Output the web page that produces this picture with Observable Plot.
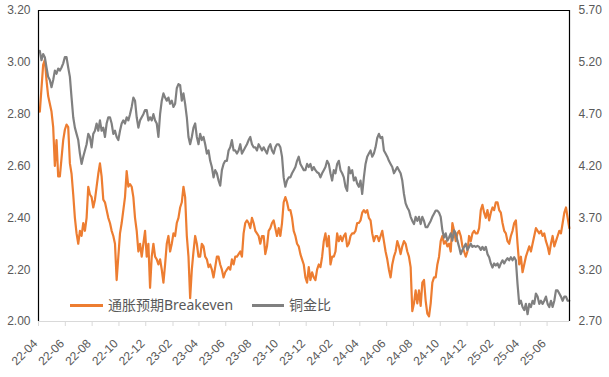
<!DOCTYPE html>
<html><head><meta charset="utf-8">
<script src="https://cdn.jsdelivr.net/npm/d3@7"></script>
<script src="https://cdn.jsdelivr.net/npm/@observablehq/plot@0.6"></script>
<style>
body{margin:0;background:#fff;}
#wrap{position:relative;width:609px;height:377px;font-family:"Liberation Sans","Noto Sans CJK SC",sans-serif;}
.sw{position:absolute;height:3px;}
.lt{position:absolute;font-size:14px;color:#595959;line-height:16px;white-space:nowrap;font-family:"Noto Sans","Noto Sans CJK SC",sans-serif;}
</style></head>
<body><div id="wrap"></div>
<script>
// ---- data (~3.8-day sampling) ----
const START_DATE = "2022-04-04";
const STEP_DAYS = 3.8;
const seriesNames = ["通胀预期Breakeven", "铜金比"];
const breakeven = [
 2.81,2.90,2.99,3.01,2.93,2.87,2.84,2.81,2.75,2.60,
 2.70,2.56,2.56,2.63,2.70,2.74,2.76,2.75,2.61,2.57,
 2.49,2.40,2.34,2.30,2.35,2.33,2.38,2.35,2.40,2.52,
 2.49,2.48,2.44,2.47,2.52,2.57,2.61,2.56,2.47,2.46,
 2.43,2.40,2.38,2.35,2.33,2.30,2.16,2.25,2.34,2.38,
 2.43,2.48,2.58,2.52,2.53,2.52,2.48,2.40,2.35,2.27,
 2.30,2.25,2.30,2.35,2.25,2.30,2.13,2.25,2.30,2.25,
 2.24,2.22,2.24,2.20,2.15,2.22,2.30,2.33,2.27,
 2.30,2.34,2.33,2.38,2.40,2.44,2.46,2.52,2.48,2.33,
 2.25,2.09,2.20,2.27,2.33,2.30,2.25,2.25,2.30,2.29,
 2.25,2.24,2.21,2.22,2.20,2.17,2.21,2.25,2.25,2.22,
 2.20,2.17,2.19,2.20,2.21,2.20,2.24,2.22,2.25,2.25,
 2.26,2.27,2.25,2.34,2.38,2.39,2.38,2.36,2.40,2.38,
 2.35,2.34,2.33,2.30,2.33,2.33,2.26,2.29,2.35,2.36,
 2.38,2.39,2.36,2.33,2.36,2.33,2.38,2.46,2.48,2.46,
 2.43,2.43,2.40,2.35,2.33,2.30,2.29,2.26,2.24,2.22,
 2.17,2.15,2.21,2.16,2.19,2.17,2.16,2.20,2.22,2.21,
 2.25,2.31,2.34,2.29,2.33,2.22,2.25,2.25,2.27,2.34,
 2.31,2.33,2.31,2.33,2.34,2.29,2.30,2.33,2.34,2.34,
 2.35,2.38,2.38,2.39,2.42,2.43,2.42,2.43,2.40,2.39,
 2.34,2.31,2.33,2.33,2.31,2.33,2.35,2.31,2.27,2.24,
 2.20,2.17,2.22,2.25,2.27,2.31,2.29,2.26,2.29,2.31,
 2.30,2.27,2.25,2.21,2.04,2.07,2.12,2.07,2.12,2.06,
 2.15,2.16,2.08,2.03,2.02,2.07,2.15,2.17,2.17,2.22,
 2.25,2.31,2.33,2.30,2.31,2.29,2.30,2.27,2.38,2.35,
 2.31,2.34,2.35,2.33,2.29,2.27,2.25,2.27,2.33,2.31,
 2.34,2.35,2.34,2.34,2.36,2.43,2.45,2.42,2.40,2.43,
 2.39,2.42,2.44,2.43,2.46,2.46,2.43,2.42,2.38,2.35,
 2.34,2.31,2.30,2.33,2.35,2.38,2.39,2.30,2.22,2.25,
 2.19,2.22,2.25,2.27,2.29,2.27,2.30,2.33,2.36,2.35,
 2.34,2.35,2.33,2.34,2.31,2.29,2.26,2.30,2.33,2.29,
 2.31,2.33,2.35,2.34,2.38,2.42,2.44,2.40,2.36
];
const copperGold = [
 5.31,5.22,5.28,5.25,5.15,5.06,5.03,4.96,5.03,5.12,
 5.09,5.14,5.12,5.15,5.19,5.25,5.25,5.15,5.06,4.86,
 4.67,4.57,4.51,4.45,4.32,4.22,4.29,4.35,4.41,4.51,
 4.48,4.38,4.51,4.54,4.61,4.54,4.64,4.54,4.57,4.48,
 4.61,4.67,4.67,4.61,4.51,4.54,4.48,4.45,4.54,4.61,
 4.64,4.61,4.67,4.64,4.70,4.77,4.86,4.83,4.67,4.57,
 4.64,4.67,4.70,4.74,4.74,4.64,4.67,4.64,4.70,4.64,
 4.61,4.48,4.70,4.83,4.90,4.86,4.83,4.86,4.80,
 4.83,4.77,4.80,4.95,4.99,4.98,4.83,4.90,4.80,4.67,
 4.48,4.41,4.48,4.57,4.61,4.48,4.41,4.51,4.45,4.48,
 4.41,4.32,4.35,4.25,4.19,4.09,4.16,4.13,4.06,4.01,
 4.16,4.22,4.25,4.25,4.35,4.38,4.45,4.35,4.35,4.32,
 4.35,4.41,4.32,4.35,4.38,4.41,4.45,4.48,4.41,4.38,
 4.38,4.35,4.41,4.38,4.35,4.38,4.35,4.32,4.38,4.41,
 4.35,4.32,4.38,4.41,4.41,4.38,4.29,4.09,4.00,4.06,
 4.09,4.09,4.13,4.16,4.19,4.25,4.29,4.22,4.19,4.16,
 4.16,4.22,4.19,4.22,4.16,4.19,4.16,4.14,4.13,4.09,
 4.13,4.16,4.19,4.25,4.22,4.13,4.06,4.16,4.13,4.22,
 4.25,4.16,4.13,4.09,4.00,3.96,4.19,4.13,4.16,4.06,
 4.09,4.03,4.00,4.06,3.93,4.09,4.22,4.29,4.32,4.35,
 4.29,4.32,4.38,4.47,4.51,4.47,4.48,4.35,4.32,4.29,
 4.25,4.22,4.19,4.13,4.16,4.19,4.16,4.13,4.06,3.93,
 3.84,3.80,3.77,3.71,3.67,3.64,3.71,3.67,3.71,3.64,
 3.71,3.67,3.61,3.61,3.64,3.67,3.71,3.74,3.77,3.77,
 3.75,3.71,3.58,3.51,3.55,3.48,3.51,3.55,3.48,3.58,
 3.55,3.48,3.42,3.35,3.39,3.42,3.45,3.39,3.42,3.45,
 3.42,3.43,3.42,3.43,3.42,3.39,3.42,3.39,3.42,3.35,
 3.32,3.26,3.22,3.26,3.24,3.26,3.22,3.26,3.29,3.26,
 3.29,3.31,3.29,3.32,3.29,3.32,3.29,3.06,2.87,2.90,
 2.84,2.81,2.87,2.77,2.87,2.84,2.90,2.87,2.97,2.94,
 2.87,2.90,2.87,2.90,2.94,2.87,2.84,2.90,2.84,2.90,
 3.00,3.00,2.97,2.94,2.90,2.94,2.94,2.90,2.90
];
const leftTicks = [2.00, 2.20, 2.40, 2.60, 2.80, 3.00, 3.20];
const rightTicks = [2.70, 3.20, 3.70, 4.20, 4.70, 5.20, 5.70];
const xTickLabels = ["22-04","22-06","22-08","22-10","22-12","23-02","23-04","23-06","23-08","23-10","23-12","24-02","24-04","24-06","24-08","24-10","24-12","25-02","25-04","25-06"];
const X_DOMAIN = ["2022-04-01", "2025-07-22"];
const colors = ["#ED7D31", "#808080"];

// ---- build ----
const parse = d3.utcParse("%Y-%m-%d");
const start = parse(START_DATE);
const rows = breakeven.map((v, i) => ({
  date: d3.utcHour.offset(start, Math.round(i * STEP_DAYS * 24)),
  be: v,
  cg: copperGold[i]
}));
const L0 = leftTicks[0], L1 = leftTicks[leftTicks.length-1];
const R0 = rightTicks[0], R1 = rightTicks[rightTicks.length-1];
const toLeft = v => L0 + (v - R0) * (L1 - L0) / (R1 - R0);
const xTicks = xTickLabels.map(s => d3.utcParse("%y-%m")(s));
const xDom = X_DOMAIN.map(parse);

const chart = Plot.plot({
  width: 609, height: 377,
  marginLeft: 38, marginRight: 40, marginTop: 10, marginBottom: 56,
  style: {fontFamily: '"Liberation Sans","Noto Sans CJK SC",sans-serif', fontSize: "12px", background: "#fff"},
  x: {type: "utc", domain: xDom},
  y: {domain: [L0, L1]},
  marks: [
    Plot.line(rows, {x: "date", y: "be", stroke: colors[0], strokeWidth: 2.2}),
    Plot.line(rows, {x: "date", y: d => toLeft(d.cg), stroke: colors[1], strokeWidth: 2.2}),
    Plot.ruleY([L1], {stroke: "#000", strokeWidth: 1.2}),
    Plot.ruleX(xDom, {stroke: "#000", strokeWidth: 1.2}),
    Plot.ruleY([L0], {stroke: "#d9d9d9", strokeWidth: 1}),
    Plot.axisX(xTicks, {tickSize: 5, stroke: "#d9d9d9", fill: "none", label: null}),
    Plot.axisX(xTicks, {tickSize: 0, tickPadding: 10, tickRotate: -45, dx: -3, dy: 10, tickFormat: d3.utcFormat("%y-%m"), fill: "#595959", fontSize: 12, label: null}),
    Plot.axisY(leftTicks, {anchor: "left", tickSize: 0, tickPadding: 8, tickFormat: d => d.toFixed(2), fill: "#595959", fontSize: 12, label: null}),
    Plot.axisY(rightTicks.map(toLeft), {anchor: "right", tickSize: 0, tickPadding: 9, tickFormat: (d, i) => rightTicks[i].toFixed(2), fill: "#595959", fontSize: 12, label: null})
  ]
});
const wrap = document.getElementById("wrap");
wrap.appendChild(chart);

// legend overlay (inside plot area, as in the reference)
const legend = [
  {name: seriesNames[0], color: colors[0], sx: 70, sw: 33, tx: 108},
  {name: seriesNames[1], color: colors[1], sx: 252, sw: 32, tx: 289}
];
for (const it of legend) {
  const s = document.createElement("div");
  s.className = "sw"; s.style.left = it.sx + "px"; s.style.top = "304px"; s.style.width = it.sw + "px"; s.style.background = it.color;
  const t = document.createElement("div");
  t.className = "lt"; t.style.left = it.tx + "px"; t.style.top = "297px"; t.textContent = it.name;
  wrap.appendChild(s); wrap.appendChild(t);
}
</script></body></html>
